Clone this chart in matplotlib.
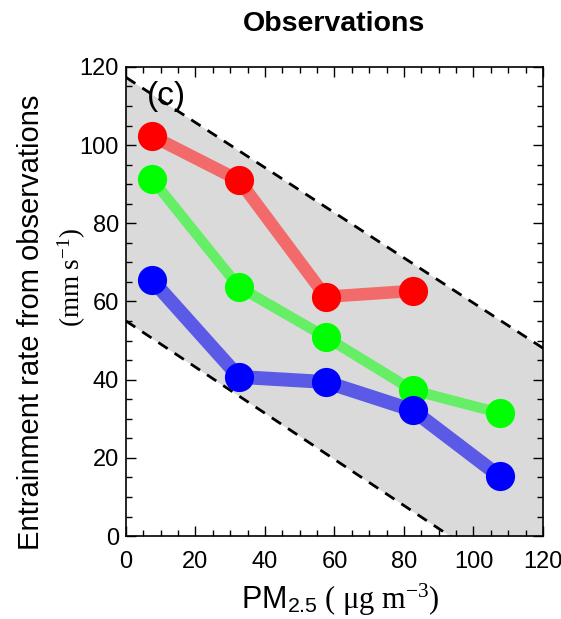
import matplotlib.pyplot as plt
import numpy as np

plt.rcParams['font.family'] = 'Liberation Sans'
plt.rcParams['mathtext.fontset'] = 'custom'
plt.rcParams['mathtext.rm'] = 'Liberation Serif'
plt.rcParams['mathtext.it'] = 'Liberation Serif:italic'
plt.rcParams['mathtext.sf'] = 'Liberation Sans'

# PM2.5 bin centres
pm = [7.5, 32.5, 57.5, 82.5, 107.5]

# entrainment rate per group (mm s-1)
red_vals = [102.3, 91.0, 61.2, 62.7]
green_vals = [91.3, 63.7, 50.9, 37.3, 31.5]
blue_vals = [65.5, 40.7, 39.4, 32.2, 15.3]

# envelope lines: y = intercept + slope * x
upper_icpt, upper_slope = 117.3, -0.577
lower_icpt, lower_slope = 55.0, -0.59

fig = plt.figure(figsize=(5.61, 6.19), dpi=100)
ax = fig.add_axes([0.2246, 0.134, 0.7433, 0.758])

xx = np.array([0, 120])
upper = upper_icpt + upper_slope * xx
lower = lower_icpt + lower_slope * xx
ax.fill_between(xx, lower, upper, color='#dadada', lw=0, zorder=1)
ax.plot(xx, upper, 'k--', lw=2, dashes=(4, 3), zorder=2)
ax.plot(xx, lower, 'k--', lw=2, dashes=(4, 3), zorder=2)

series = [
    (red_vals, '#ff0000', '#f26a6a', 9),
    (green_vals, '#00ff00', '#66ee66', 7.5),
    (blue_vals, '#0000ff', '#5a5ae6', 10),
]
for vals, mc, lc, lw in series:
    xs = pm[:len(vals)]
    ax.plot(xs, vals, color=lc, lw=lw, solid_capstyle='butt', zorder=3)
    ax.plot(xs, vals, 'o', color=mc, ms=21, mec='none', zorder=4)

ax.set_xlim(0, 120)
ax.set_ylim(0, 120)
ax.set_xticks(np.arange(0, 121, 20))
ax.set_yticks(np.arange(0, 121, 20))
ax.set_xticks(np.arange(0, 121, 5), minor=True)
ax.set_yticks(np.arange(0, 121, 5), minor=True)
ax.tick_params(which='both', direction='in', top=True, right=True,
               labelsize=17, width=1)
ax.tick_params(which='major', length=7)
ax.tick_params(which='minor', length=4)
ax.tick_params(axis='x', pad=11)
ax.tick_params(axis='y', pad=5)
for s in ax.spines.values():
    s.set_linewidth(1.2)

ax.set_title('Observations', fontsize=20.5, fontweight='bold', pad=26)
ax.text(0.098, 0.936, '(c)', transform=ax.transAxes, fontsize=24,
        ha='center', va='center', zorder=5)

ax.text(-0.228, 0.456, 'Entrainment rate from observations',
        transform=ax.transAxes, rotation=90, fontsize=21,
        ha='center', va='center')
ax.text(-0.129, 0.552, r'$\mathrm{(mm\ s^{-1})}$',
        transform=ax.transAxes, rotation=90, fontsize=19.5,
        ha='center', va='center')
ax.text(0.513, -0.136, r'PM$_{\mathsf{2.5}}\mathrm{\ (\ \mu g\ m^{-3})}$',
        transform=ax.transAxes, fontsize=22, ha='center', va='center')

fig.savefig('out.png', dpi=100)
